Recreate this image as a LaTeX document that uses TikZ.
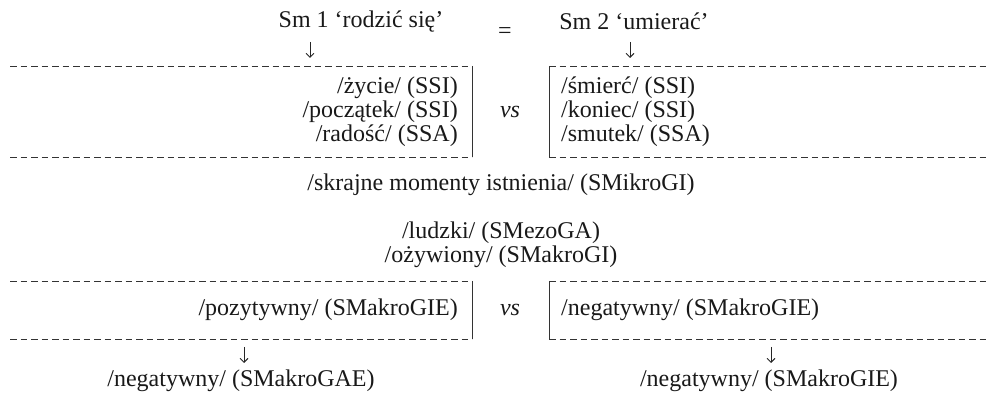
\documentclass[tikz,border=0pt]{standalone}
\usepackage{fontspec}
\setmainfont{Liberation Serif}
\usetikzlibrary{arrows.meta}
\begin{document}
\begin{tikzpicture}[x=1pt,y=-1pt,
  txt/.style={inner sep=0pt,font=\fontsize{24}{24}\selectfont,text=black!90},
  ital/.style={txt,font=\fontsize{24}{24}\selectfont\itshape},
  dline/.style={draw=black!80,line width=0.9pt,dash pattern=on 6.5pt off 4pt},
  bar/.style={draw=black!80,line width=1pt},
  darr/.style={draw=black!85,line width=0.9pt,-{Straight Barb[length=4pt,width=8pt]}}]
\useasboundingbox (0,0) rectangle (994,395);
% top titles
\node[txt] (sm1) at (361,22) {Sm 1 ‘rodzić się’};
\node[txt] (eq) at (505,33) {=};
\node[txt] (sm2) at (634,21) {Sm 2 ‘umierać’};
\coordinate (a1s) at (310,42); \coordinate (a1e) at (310,58);
\coordinate (a2s) at (630,42); \coordinate (a2e) at (630,58);
\draw[darr] (a1s) -- (a1e);
\draw[darr] (a2s) -- (a2e);
% first box
\coordinate (t1l) at (10,66); \coordinate (t1m) at (472,66);
\coordinate (t1r) at (549,66); \coordinate (t1e) at (988,66);
\coordinate (b1l) at (10,157); \coordinate (b1m) at (472,157);
\coordinate (b1r) at (549,157); \coordinate (b1e) at (988,157);
\draw[dline] (t1l) -- (t1m); \draw[dline] (t1r) -- (t1e);
\draw[dline] (b1l) -- (b1m); \draw[dline] (b1r) -- (b1e);
\draw[bar] (t1m) -- (b1m); \draw[bar] (t1r) -- (b1r);
\node[txt,anchor=east] (l1) at (458,87.5) {/życie/ (SSI)};
\node[txt,anchor=east] (l2) at (458,111.5) {/początek/ (SSI)};
\node[txt,anchor=east] (l3) at (458,135.5) {/radość/ (SSA)};
\node[ital] (vs1) at (510,111.5) {vs};
\node[txt,anchor=west] (r1) at (561,87.5) {/śmierć/ (SSI)};
\node[txt,anchor=west] (r2) at (561,111.5) {/koniec/ (SSI)};
\node[txt,anchor=west] (r3) at (561,135.5) {/smutek/ (SSA)};
% middle
\node[txt] (sk) at (501,185) {/skrajne momenty istnienia/ (SMikroGI)};
\node[txt] (lu) at (501,233) {/ludzki/ (SMezoGA)};
\node[txt] (oz) at (501,257) {/ożywiony/ (SMakroGI)};
% second box
\coordinate (t2l) at (10,281); \coordinate (t2m) at (472,281);
\coordinate (t2r) at (549,281); \coordinate (t2e) at (988,281);
\coordinate (b2l) at (10,339); \coordinate (b2m) at (472,339);
\coordinate (b2r) at (549,339); \coordinate (b2e) at (988,339);
\draw[dline] (t2l) -- (t2m); \draw[dline] (t2r) -- (t2e);
\draw[dline] (b2l) -- (b2m); \draw[dline] (b2r) -- (b2e);
\draw[bar] (t2m) -- (b2m); \draw[bar] (t2r) -- (b2r);
\node[txt,anchor=east] (poz) at (458,310) {/pozytywny/ (SMakroGIE)};
\node[ital] (vs2) at (510,310) {vs};
\node[txt,anchor=west] (neg) at (561,310) {/negatywny/ (SMakroGIE)};
% bottom
\node[txt] (n1) at (241,381) {/negatywny/ (SMakroGAE)};
\node[txt] (n2) at (769,381) {/negatywny/ (SMakroGIE)};
\coordinate (a3s) at (244,347); \coordinate (a3e) at (244,363);
\coordinate (a4s) at (771,347); \coordinate (a4e) at (771,363);
\draw[darr] (a3s) -- (a3e);
\draw[darr] (a4s) -- (a4e);
\end{tikzpicture}
\end{document}
